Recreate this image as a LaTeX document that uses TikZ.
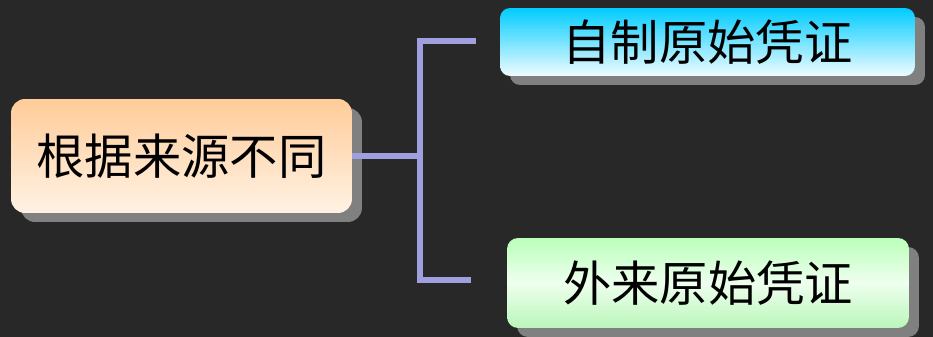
\documentclass[tikz,border=0pt]{standalone}
\usepackage{fontspec}
\newfontfamily\cjk{Noto Sans CJK SC}
\usetikzlibrary{shadows}
\definecolor{bgdark}{RGB}{40,40,40}
\definecolor{branchline}{RGB}{160,160,222}
\definecolor{shadowgray}{RGB}{128,128,128}
\tikzstyle{topic} = [rectangle, rounded corners=0.28cm, text centered, font=\cjk\fontsize{27.5}{32}\selectfont, text=black, drop shadow={shadow xshift=0.2cm, shadow yshift=-0.18cm, fill=shadowgray, opacity=1}]
\tikzstyle{source} = [topic, minimum width=6.82cm, minimum height=2.28cm, top color={rgb,255:red,255;green,204;blue,153}, bottom color={rgb,255:red,255;green,242;blue,228}]
\tikzstyle{inhouse} = [topic, rounded corners=0.2cm, minimum width=8.3cm, minimum height=1.36cm, top color={rgb,255:red,0;green,204;blue,255}, bottom color={rgb,255:red,240;green,252;blue,255}]
\tikzstyle{external} = [topic, rounded corners=0.22cm, minimum width=8.04cm, minimum height=1.8cm, shading=axis, top color={rgb,255:red,186;green,255;blue,186}, bottom color={rgb,255:red,186;green,246;blue,186}, middle color={rgb,255:red,238;green,255;blue,238}]
\tikzstyle{branch} = [branchline, line width=3.6pt]

\begin{document}
\begin{tikzpicture}[x=0.02cm, y=-0.02cm]
			\fill[bgdark] (0,0) rectangle (933,337);
			\useasboundingbox (0,0) rectangle (933,337);
			\node[source] (basis) at (181.5,156) {根据来源不同};
			\node[inhouse] (selfmade) at (707.5,42) {自制原始凭证};
			\node[external] (outside) at (708,283) {外来原始凭证};
			
			\coordinate (spine) at (420,156);
			\coordinate (upper) at (476,41);
			\coordinate (lower) at (471,280);
			
			\draw [branch] (basis.east) -- (spine);
			\draw [branch] (upper) -| (spine) |- (lower);
			
		\end{tikzpicture}
\end{document}
